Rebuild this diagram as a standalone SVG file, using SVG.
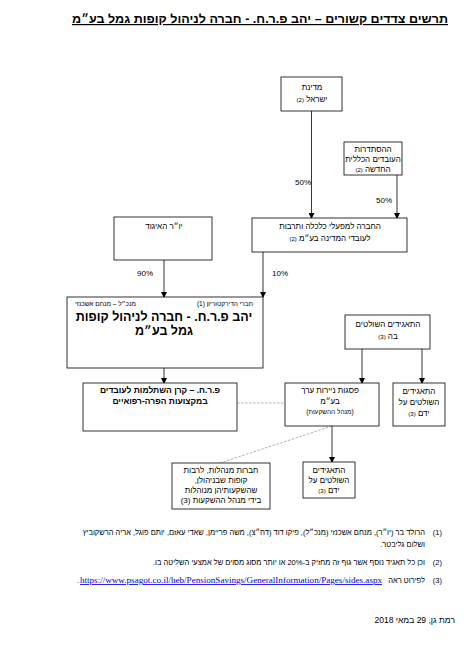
<svg xmlns="http://www.w3.org/2000/svg" width="474" height="650" viewBox="0 0 474 650">
<defs>
<marker id="ah" markerWidth="6" markerHeight="6" refX="5" refY="3" orient="auto" markerUnits="userSpaceOnUse">
<path d="M0,0 L6,3 L0,6 Z" fill="#000"/>
</marker>
<style>
text{font-family:"Liberation Sans","DejaVu Sans",sans-serif;fill:#000;direction:rtl}
.box{fill:#fff;stroke:#000;stroke-width:0.8}
.t{font-size:8px;text-anchor:middle}
.b{font-size:12.5px;font-weight:bold;text-anchor:middle}
.bm{font-size:8.5px;font-weight:bold;text-anchor:middle}
.ln{stroke:#000;stroke-width:0.8;fill:none}
.arr{stroke:#000;stroke-width:0.8;fill:none;marker-end:url(#ah)}
.dash{stroke:#999;stroke-width:0.8;fill:none;stroke-dasharray:2.5,1.5}
.fn{font-size:7.5px;text-anchor:start}
</style>
</defs>
<rect width="474" height="650" fill="#fff"/>
<text id="title" x="260" y="23" style="font-size:12px;font-weight:bold;text-anchor:middle;text-decoration:underline" textLength="376" lengthAdjust="spacingAndGlyphs">תרשים צדדים קשורים – יהב פ.ר.ח. - חברה לניהול קופות גמל בע״מ</text>

<g id="connectors">
<line class="arr" x1="311.5" y1="111" x2="311.5" y2="218"/>
<line class="arr" x1="397" y1="175" x2="397" y2="218"/>
<line class="arr" x1="263" y1="252" x2="263" y2="297"/>
<line class="arr" x1="164" y1="260" x2="164" y2="297"/>
<line class="arr" x1="164" y1="368" x2="164" y2="383"/>
<line class="arr" x1="362" y1="349" x2="362" y2="383"/>
<line class="arr" x1="422" y1="349" x2="422" y2="383"/>
<line class="arr" x1="332" y1="426" x2="332" y2="462"/>
<line class="dash" x1="237" y1="403" x2="285" y2="403"/>
<line class="dash" x1="332" y1="426" x2="220" y2="463"/>
<text class="t" x="303" y="185">50%</text>
<text class="t" x="384" y="203">50%</text>
<text class="t" x="280" y="276">10%</text>
<text class="t" x="145" y="276">90%</text>
</g>

<g id="n-medinat">
<rect class="box" x="281" y="77" width="61" height="34"/>
<text class="t" x="312" y="90">מדינת</text>
<text class="t" x="312" y="102">ישראל <tspan font-size="6">(2)</tspan></text>
</g>

<g id="n-histadrut">
<rect class="box" x="344" y="142" width="58" height="33"/>
<text class="t" x="373" y="152">ההסתדרות</text>
<text class="t" x="373" y="162">העובדים הכללית</text>
<text class="t" x="373" y="172">החדשה <tspan font-size="6">(2)</tspan></text>
</g>

<g id="n-hevra">
<rect class="box" x="252" y="218" width="155" height="34"/>
<text class="t" x="330" y="229">החברה למפעלי כלכלה ותרבות</text>
<text class="t" x="330" y="241">לעובדי המדינה בע״מ <tspan font-size="6">(2)</tspan></text>
</g>

<g id="n-yor">
<rect class="box" x="114" y="217" width="98" height="43"/>
<text class="t" x="164" y="229">יו״ר האיגוד</text>
</g>

<g id="n-yahav">
<rect class="box" x="67" y="297" width="196" height="71"/>
<text x="253" y="306" style="font-size:6.5px;text-anchor:start">חברי הדירקטוריון (1)</text>
<text x="75" y="306" style="font-size:6.5px;text-anchor:end">מנכ״ל – מנחם אשכנזי</text>
<text class="b" x="164" y="321">יהב פ.ר.ח. - חברה לניהול קופות</text>
<text class="b" x="164" y="335">גמל בע״מ</text>
</g>

<g id="n-perah">
<rect class="box" x="83" y="383" width="154" height="48"/>
<text class="bm" x="160" y="393">פ.ר.ח. – קרן השתלמות לעובדים</text>
<text class="bm" x="160" y="404">במקצועות הפרה-רפואיים</text>
</g>

<g id="n-controlling">
<rect class="box" x="345" y="315" width="85" height="34"/>
<text class="t" x="388" y="327">התאגידים השולטים</text>
<text class="t" x="388" y="339">בה <tspan font-size="6">(3)</tspan></text>
</g>

<g id="n-psagot">
<rect class="box" x="285" y="383" width="94" height="43"/>
<text class="t" x="330" y="393">פסגות ניירות ערך</text>
<text class="t" x="330" y="404">בע״מ</text>
<text x="330" y="414" style="font-size:6.5px;text-anchor:middle">(מנהל ההשקעות)</text>
</g>

<g id="n-controlled1">
<rect class="box" x="393" y="383" width="52" height="43"/>
<text class="t" x="419" y="394">התאגידים</text>
<text class="t" x="419" y="405">השולטים על</text>
<text class="t" x="419" y="416">ידם <tspan font-size="6">(3)</tspan></text>
</g>

<g id="n-controlled2">
<rect class="box" x="303" y="462" width="52" height="36"/>
<text class="t" x="329" y="473">התאגידים</text>
<text class="t" x="329" y="483">השולטים על</text>
<text class="t" x="329" y="493">ידם <tspan font-size="6">(3)</tspan></text>
</g>

<g id="n-managing">
<rect class="box" x="172" y="463" width="98" height="46"/>
<text class="t" x="221" y="473">חברות מנהלות, לרבות</text>
<text class="t" x="221" y="483">קופות שבניהולן,</text>
<text class="t" x="221" y="493">שהשקעותיהן מנוהלות</text>
<text class="t" x="221" y="503">בידי מנהל ההשקעות (3)</text>
</g>

<g id="footnotes">
<text class="fn" x="442" y="535">(1)</text>
<text class="fn" x="425" y="535">הרולד בר (יו״ר), מנחם אשכנזי (מנכ״ל), פיקו דוד (דח״צ), משה פריימן, שאדי עאזם, יותם פוגל, אריה הרשקוביץ</text>
<text class="fn" x="425" y="547">ושלום גליבטר.</text>
<text class="fn" x="442" y="565">(2)</text>
<text class="fn" x="425" y="565">וכן כל תאגיד נוסף אשר גוף זה מחזיק ב-20% או יותר מסוג מסוים של אמצעי השליטה בו.</text>
<text class="fn" x="442" y="583">(3)</text>
<text class="fn" x="425" y="583">לפירוט ראה</text>
<text x="80" y="583" style="font-family:'Liberation Serif',serif;font-size:8.5px;fill:#0000ee;direction:ltr;text-anchor:start;text-decoration:underline" textLength="302" lengthAdjust="spacingAndGlyphs">https://www.psagot.co.il/heb/PensionSavings/GeneralInformation/Pages/sides.aspx</text>
<text x="79" y="583" style="font-size:7.5px;text-anchor:start">.</text>
<text x="455" y="623" style="font-size:8.5px;text-anchor:start">רמת גן, 29 במאי 2018</text>
</g>
</svg>
